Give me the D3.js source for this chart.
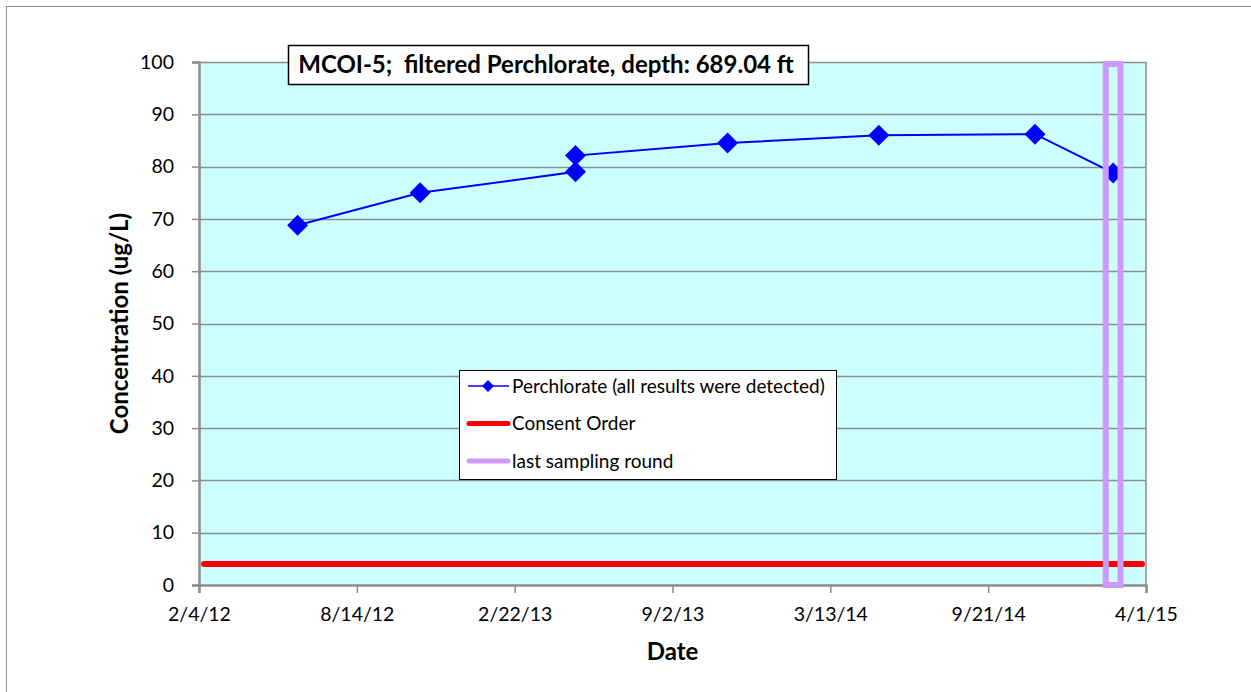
<!DOCTYPE html>
<html>
<head>
<meta charset="utf-8">
<script src="https://cdn.jsdelivr.net/npm/d3@7"></script>
<style>
  body { margin: 0; background: #fff; }
  text { font-family: Lato, "Open Sans", sans-serif; fill: #000; }
</style>
</head>
<body>
<div id="chart"></div>
<script>

// chart data
var sampleDates = ["2012-06-03", "2012-10-30", "2013-05-07", "2013-05-07", "2013-11-08", "2014-05-11", "2014-11-17", "2015-02-20"];
var perchlorate = [68.8, 75.0, 79.0, 82.1, 84.5, 86.0, 86.2, 78.8];
var consentOrder = 4;
var lastRoundDate = "2015-02-20";
var xTickDates = ["2012-02-04", "2012-08-14", "2013-02-22", "2013-09-02", "2014-03-13", "2014-09-21", "2015-04-01"];
var yTicks = [0, 10, 20, 30, 40, 50, 60, 70, 80, 90, 100];
var legendLabels = ["Perchlorate (all results were detected)", "Consent Order", "last sampling round"];

var width = 1251, height = 692;
var margin = {left: 199, top: 62, right: 105, bottom: 107};
var parse = d3.utcParse("%Y-%m-%d");
var fmt = d3.utcFormat("%-m/%-d/%y");

var svg = d3.select("#chart")
    .append("svg")
    .attr("width", width)
    .attr("height", height);

// outer chart border
svg.append("rect")
    .attr("x", 6.5).attr("y", 6.5)
    .attr("width", width + 10).attr("height", height + 10)
    .attr("fill", "none")
    .attr("stroke", "#8c8c8c")
    .attr("stroke-width", 1);

var x = d3.scaleUtc()
    .domain([parse(xTickDates[0]), parse(xTickDates[xTickDates.length - 1])])
    .range([margin.left, width - margin.right]);

var y = d3.scaleLinear()
    .domain([0, 100])
    .range([height - margin.bottom, margin.top]);

// plot background
svg.append("rect")
    .attr("x", x.range()[0]).attr("y", y(100))
    .attr("width", x.range()[1] - x.range()[0])
    .attr("height", y(0) - y(100))
    .attr("fill", "#ccffff");

// gridlines
svg.append("g")
    .selectAll("line")
    .data(yTicks.slice(1))
    .enter()
    .append("line")
    .attr("x1", x.range()[0]).attr("x2", x.range()[1])
    .attr("y1", function (d) { return Math.round(y(d)) + 0.5; })
    .attr("y2", function (d) { return Math.round(y(d)) + 0.5; })
    .attr("stroke", "#8c8c8c")
    .attr("stroke-width", 1.3);

// right border of plot area
svg.append("line")
    .attr("x1", x.range()[1]).attr("x2", x.range()[1])
    .attr("y1", y(100)).attr("y2", y(0))
    .attr("stroke", "#8c8c8c").attr("stroke-width", 1.5);

// axes
var yAxis = svg.append("g")
    .attr("transform", "translate(" + x.range()[0] + ",0)")
    .call(d3.axisLeft(y).tickValues(yTicks).tickSize(7).tickPadding(18).tickFormat(d3.format("d")));

var xAxis = svg.append("g")
    .attr("transform", "translate(0," + y(0) + ")")
    .call(d3.axisBottom(x).tickValues(xTickDates.map(parse)).tickSize(8).tickPadding(14).tickFormat(fmt));

[yAxis, xAxis].forEach(function (g) {
    g.select(".domain").attr("stroke", "#8c8c8c").attr("stroke-width", 2.5);
    g.selectAll(".tick line").attr("stroke", "#8c8c8c").attr("stroke-width", 1.5);
    g.selectAll(".tick text").attr("font-family", "Lato, sans-serif").attr("font-size", 19.5).attr("fill", "#000");
});

// consent order line
svg.append("line")
    .attr("x1", x.range()[0] + 5).attr("x2", x.range()[1] - 4)
    .attr("y1", y(consentOrder)).attr("y2", y(consentOrder))
    .attr("stroke", "#ff0000")
    .attr("stroke-width", 6)
    .attr("stroke-linecap", "round");

// perchlorate series
var pts = sampleDates.map(function (d, i) { return {date: parse(d), value: perchlorate[i]}; });

svg.append("path")
    .datum(pts)
    .attr("fill", "none")
    .attr("stroke", "#0000ff")
    .attr("stroke-width", 2)
    .attr("d", d3.line()
        .x(function (d) { return x(d.date); })
        .y(function (d) { return y(d.value); }));

var diamond = "M0,-10.5L10.5,0L0,10.5L-10.5,0Z";
svg.append("g")
    .selectAll("path")
    .data(pts)
    .enter()
    .append("path")
    .attr("d", diamond)
    .attr("transform", function (d) { return "translate(" + x(d.date) + "," + y(d.value) + ")"; })
    .attr("fill", "#0000ff");

// last sampling round box
var lr = parse(lastRoundDate);
svg.append("rect")
    .attr("x", x(d3.utcDay.offset(lr, -9)))
    .attr("y", y(100) + 2)
    .attr("width", x(d3.utcDay.offset(lr, 9)) - x(d3.utcDay.offset(lr, -9)))
    .attr("height", y(0) - y(100) - 2)
    .attr("fill", "none")
    .attr("stroke", "#cc99ff")
    .attr("stroke-width", 6);

// title box
var title = svg.append("g").attr("transform", "translate(288,45)");
title.append("rect")
    .attr("x", 0.5).attr("y", 0.5)
    .attr("width", 520).attr("height", 39)
    .attr("fill", "#fff")
    .attr("stroke", "#000")
    .attr("stroke-width", 1.5);
title.append("text")
    .attr("x", 258).attr("y", 28)
    .attr("text-anchor", "middle")
    .attr("font-size", 24)
    .attr("font-weight", "bold")
    .style("white-space", "pre")
    .text("MCOI-5;  filtered Perchlorate, depth: 689.04 ft");

// axis titles
svg.append("text")
    .attr("transform", "translate(128," + ((y(0) + y(100)) / 2) + ") rotate(-90)")
    .attr("text-anchor", "middle")
    .attr("font-size", 24)
    .attr("font-weight", "bold")
    .text("Concentration (ug/L)");

svg.append("text")
    .attr("x", (x.range()[0] + x.range()[1]) / 2)
    .attr("y", 660)
    .attr("text-anchor", "middle")
    .attr("font-size", 24)
    .attr("font-weight", "bold")
    .text("Date");

// legend
var legend = svg.append("g").attr("transform", "translate(459,370)");
legend.append("rect")
    .attr("x", 0.5).attr("y", 0.5)
    .attr("width", 377).attr("height", 109)
    .attr("fill", "#fff")
    .attr("stroke", "#000")
    .attr("stroke-width", 1);

var rows = legend.selectAll("g.item")
    .data(legendLabels)
    .enter()
    .append("g")
    .attr("class", "item")
    .attr("transform", function (d, i) { return "translate(0," + (16 + i * 37.5) + ")"; });

rows.each(function (d, i) {
    var g = d3.select(this);
    if (i === 0) {
        g.append("line").attr("x1", 9).attr("x2", 50).attr("y1", 0).attr("y2", 0)
            .attr("stroke", "#0000ff").attr("stroke-width", 1.5);
        g.append("path").attr("d", "M0,-6L6,0L0,6L-6,0Z")
            .attr("transform", "translate(29,0)").attr("fill", "#0000ff");
    } else {
        g.append("line").attr("x1", 10).attr("x2", 49).attr("y1", 0).attr("y2", 0)
            .attr("stroke", i === 1 ? "#ff0000" : "#cc99ff")
            .attr("stroke-width", 5)
            .attr("stroke-linecap", "round");
    }
    g.append("text")
        .attr("x", 53).attr("y", 6.5)
        .attr("font-size", 19)
        .text(d);
});

</script>
</body>
</html>
